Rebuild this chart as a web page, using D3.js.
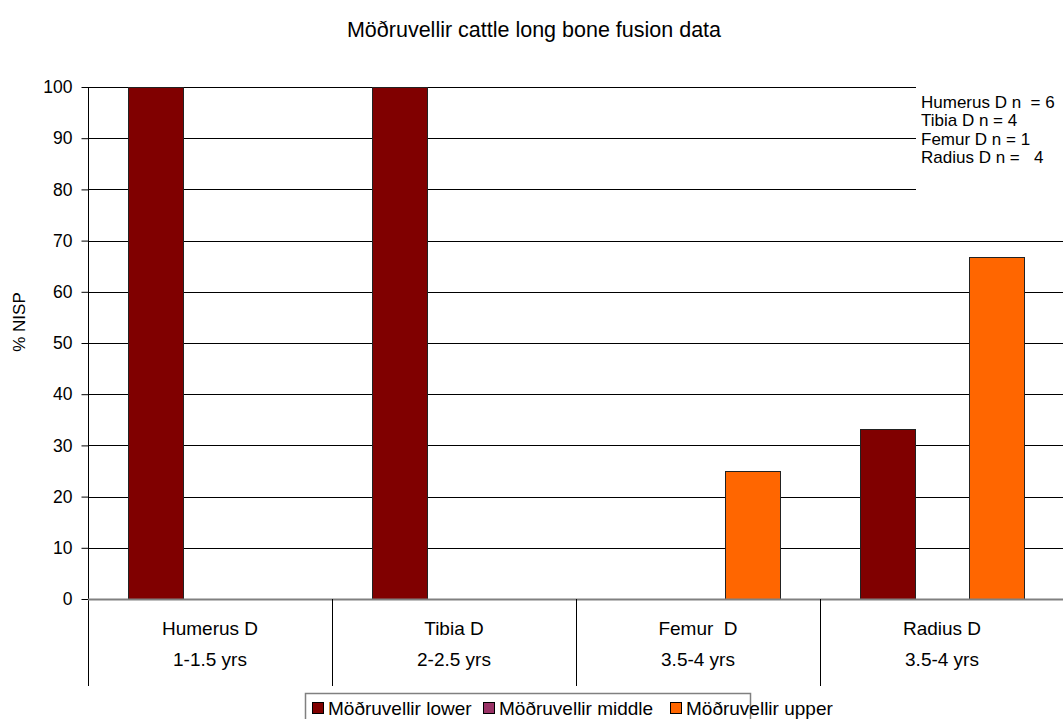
<!DOCTYPE html>
<html>
<head>
<meta charset="utf-8">
<script src="https://cdn.jsdelivr.net/npm/d3@7"></script>
<style>
  body { margin: 0; background: #fff; }
  svg { display: block; font-family: "Liberation Sans", Arial, sans-serif; }
  svg text { white-space: pre; }
</style>
</head>
<body>
<svg id="chart" width="1063" height="719"></svg>
<script>
// Fusion data: % NISP per element, split by site phase
const bones = ["Humerus D", "Tibia D", "Femur  D", "Radius D"];
const ages = ["1-1.5 yrs", "2-2.5 yrs", "3.5-4 yrs", "3.5-4 yrs"];
const seriesNames = ["Möðruvellir lower", "Möðruvellir middle", "Möðruvellir upper"];
const lowerVals = [100, 100, 0, 33.3];
const middleVals = [0, 0, 0, 0];
const upperVals = [0, 0, 25, 66.7];
const seriesColors = ["#800000", "#993366", "#FF6600"];
const yTicks = [0, 10, 20, 30, 40, 50, 60, 70, 80, 90, 100];
const noteLines = ["Humerus D n  = 6", "Tibia D n = 4", "Femur D n = 1", "Radius D n =   4"];

(function () {
const svg = d3.select("#chart");
const plotL = 88, plotR = 1064, plotT = 87, plotB = 599;

const x = d3.scaleBand().domain(d3.range(bones.length)).range([plotL, plotR]).padding(0);
const inner = d3.scaleBand().domain(d3.range(seriesNames.length))
  .range([0, x.bandwidth()]).paddingOuter(0.72).paddingInner(0);
const y = d3.scaleLinear().domain([0, 100]).range([plotB, plotT]);

const allVals = [lowerVals, middleVals, upperVals];

// Title
svg.append("text").attr("x", 534).attr("y", 37).attr("text-anchor", "middle")
  .attr("font-size", 21.5).attr("fill", "#000")
  .text("Möðruvellir cattle long bone fusion data");

// Gridlines
const grid = svg.append("g");
yTicks.filter(t => t > 0).forEach(t => {
  grid.append("line").attr("x1", plotL).attr("x2", plotR)
    .attr("y1", Math.round(y(t)) + 0.5).attr("y2", Math.round(y(t)) + 0.5)
    .attr("stroke", "#000").attr("stroke-width", 1);
});

// Note box (white background covers gridlines)
svg.append("rect").attr("x", 916).attr("y", 84).attr("width", 147).attr("height", 108)
  .attr("fill", "#fff");
const note = svg.append("g").attr("font-size", 17).attr("fill", "#000");
noteLines.forEach((s, i) => {
  note.append("text").attr("x", 921).attr("y", 108 + i * 18.4).text(s);
});

// Bars
const bars = svg.append("g");
bones.forEach((b, ci) => {
  allVals.forEach((vals, si) => {
    const v = vals[ci];
    if (!v) return;
    bars.append("rect")
      .attr("x", Math.round(x(ci) + inner(si)) + 0.5)
      .attr("y", Math.round(y(v)) + 0.5)
      .attr("width", Math.round(inner.bandwidth()))
      .attr("height", Math.round(y(0) - y(v)))
      .attr("fill", seriesColors[si])
      .attr("stroke", "#222").attr("stroke-width", 1);
  });
});

// Y axis
const yAxis = d3.axisLeft(y).tickValues(yTicks).tickSize(7).tickPadding(9);
const yg = svg.append("g").attr("transform", `translate(${plotL + 0.5},0)`).call(yAxis);
yg.select(".domain").remove();
yg.selectAll(".tick line").attr("stroke", "#000");
yg.selectAll(".tick text").attr("font-size", 17.5).attr("font-family", "Liberation Sans, Arial, sans-serif").attr("fill", "#000");
svg.append("line").attr("x1", plotL + 0.5).attr("x2", plotL + 0.5).attr("y1", plotT).attr("y2", 686)
  .attr("stroke", "#000");

// Zero baseline
svg.append("line").attr("x1", plotL).attr("x2", plotR)
  .attr("y1", plotB + 0.5).attr("y2", plotB + 0.5).attr("stroke", "#808080").attr("stroke-width", 2);

// Category separators and labels
const cats = svg.append("g");
bones.forEach((b, ci) => {
  if (ci > 0) {
    cats.append("line").attr("x1", Math.round(x(ci)) + 0.5).attr("x2", Math.round(x(ci)) + 0.5)
      .attr("y1", plotB).attr("y2", 686).attr("stroke", "#000");
  }
  const cx = x(ci) + x.bandwidth() / 2;
  cats.append("text").attr("x", cx).attr("y", 635).attr("text-anchor", "middle")
    .attr("font-size", 19).text(b);
  cats.append("text").attr("x", cx).attr("y", 666).attr("text-anchor", "middle")
    .attr("font-size", 19).text(ages[ci]);
});

// Y axis title
svg.append("text").attr("transform", "translate(25,322) rotate(-90)")
  .attr("text-anchor", "middle").attr("font-size", 17).text("% NISP");

// Legend
const lg = svg.append("g");
lg.append("rect").attr("x", 305.5).attr("y", 693.5).attr("width", 445).attr("height", 30)
  .attr("fill", "#fff").attr("stroke", "#808080").attr("stroke-width", 1.5);
const legX = [312, 483, 670];
seriesNames.forEach((s, i) => {
  lg.append("rect").attr("x", legX[i] + 0.5).attr("y", 702.5).attr("width", 11).attr("height", 11)
    .attr("fill", seriesColors[i]).attr("stroke", "#000");
  lg.append("text").attr("x", legX[i] + 16).attr("y", 715).attr("font-size", 19).text(s);
});
})();
</script>
</body>
</html>
